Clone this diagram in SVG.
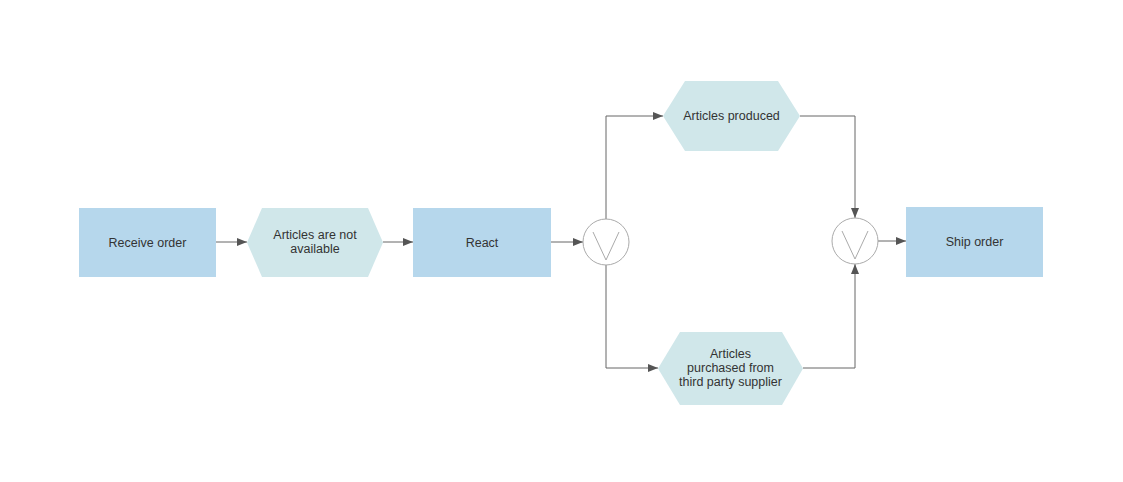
<svg xmlns="http://www.w3.org/2000/svg" width="1123" height="482" viewBox="0 0 1123 482">
<style>
.fn{fill:#b6d7ec}
.ev{fill:#d0e7ea}
.t{font-family:"Liberation Sans",Arial,sans-serif;font-size:12.5px;fill:#333;text-anchor:middle}
.c{fill:none;stroke:#666;stroke-width:1}
.g{fill:#fff;stroke:#aaa;stroke-width:1}
.v{fill:none;stroke:#aaa;stroke-width:1}
</style>
<defs>
<marker id="ah" markerWidth="10" markerHeight="8" refX="10" refY="4" orient="auto" markerUnits="userSpaceOnUse">
<path d="M0,0 L10,4 L0,8 Z" fill="#555"/>
</marker>
</defs>
<rect width="1123" height="482" fill="#fff"/>
<g id="connectors">
<path class="c" d="M216,242 H247" marker-end="url(#ah)"/>
<path class="c" d="M383,242 H413" marker-end="url(#ah)"/>
<path class="c" d="M551,242 H583" marker-end="url(#ah)"/>
<path class="c" d="M606,219 V116 H663" marker-end="url(#ah)"/>
<path class="c" d="M606,265 V368 H658" marker-end="url(#ah)"/>
<path class="c" d="M800,116 H855 V218" marker-end="url(#ah)"/>
<path class="c" d="M803,368 H855 V264" marker-end="url(#ah)"/>
<path class="c" d="M878,241 H906" marker-end="url(#ah)"/>
</g>
<g id="receive-order">
<rect class="fn" x="79" y="208" width="137" height="69"/>
<text class="t" x="147.5" y="246.5">Receive order</text>
</g>
<g id="articles-not-available">
<polygon class="ev" points="247,242.5 262,208 368,208 383,242.5 368,277 262,277"/>
<text class="t" x="315" y="238.5">Articles are not</text>
<text class="t" x="315" y="253">available</text>
</g>
<g id="react">
<rect class="fn" x="413" y="208" width="138" height="69"/>
<text class="t" x="482" y="246.5">React</text>
</g>
<g id="xor-split">
<circle class="g" cx="606" cy="242" r="23"/>
<path class="v" d="M593,232 L606,260 L619,232"/>
</g>
<g id="articles-produced">
<polygon class="ev" points="663,116 685,81 778,81 800,116 778,151 685,151"/>
<text class="t" x="731.5" y="120">Articles produced</text>
</g>
<g id="articles-purchased">
<polygon class="ev" points="658,368.5 680,332 782,332 803,368.5 782,405 680,405"/>
<text class="t" x="730.5" y="358">Articles</text>
<text class="t" x="730.5" y="372">purchased from</text>
<text class="t" x="730.5" y="386">third party supplier</text>
</g>
<g id="xor-join">
<circle class="g" cx="855" cy="241" r="23"/>
<path class="v" d="M842,231 L855,259 L868,231"/>
</g>
<g id="ship-order">
<rect class="fn" x="906" y="207" width="137" height="70"/>
<text class="t" x="974.5" y="245.5">Ship order</text>
</g>
</svg>
